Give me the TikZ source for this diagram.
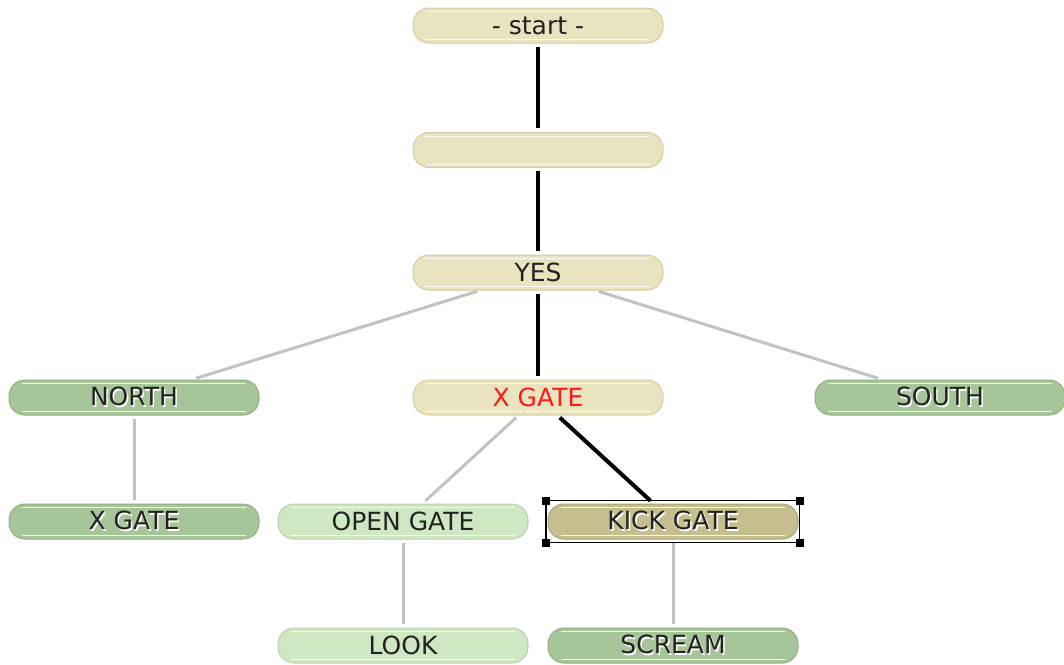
\documentclass[tikz,border=0pt]{standalone}
\usepackage{fontspec}
\setmainfont{DejaVu Sans}
\definecolor{beige}{HTML}{E9E3BF}
\definecolor{beigeline}{HTML}{D4CCA2}
\definecolor{dgreen}{HTML}{A6C599}
\definecolor{dgreenline}{HTML}{8EAF80}
\definecolor{lgreen}{HTML}{D0E7C3}
\definecolor{lgreenline}{HTML}{B6D4A6}
\definecolor{kick}{HTML}{C5BE8E}
\definecolor{kickline}{HTML}{A9A272}
\definecolor{txt}{HTML}{222222}
\definecolor{conn}{HTML}{C2C2C2}
\definecolor{redtxt}{HTML}{FF1A1A}
\newcommand\embtext[1]{\makebox[0pt][l]{\raisebox{-1.5pt}{\hspace{1.5pt}\textcolor{white}{#1}}}#1}
\tikzset{
  box/.style={draw=#1, line width=1pt, rounded corners=16pt, minimum width=250pt, minimum height=35pt,
    inner sep=0pt, text=txt, font=\fontsize{25}{28}\selectfont,
    path picture={
      \draw[white, line width=1pt, opacity=0.85]
        ([xshift=13pt,yshift=-3.5pt]path picture bounding box.north west) -- ([xshift=-13pt,yshift=-3.5pt]path picture bounding box.north east)
        ([xshift=13pt,yshift=3.5pt]path picture bounding box.south west) -- ([xshift=-13pt,yshift=3.5pt]path picture bounding box.south east);
    }},
  tan/.style={box=beigeline, fill=beige},
  dg/.style={box=dgreenline, fill=dgreen},
  lg/.style={box=lgreenline, fill=lgreen},
  kk/.style={box=kickline, fill=kick},
  main/.style={draw=black, line width=4pt, shorten <=3pt, shorten >=4pt},
  side/.style={draw=conn, line width=3pt, shorten <=3pt, shorten >=4pt},
  handle/.style={fill=black, minimum size=8pt, inner sep=0pt}
}
\begin{document}
\begin{tikzpicture}[x=1pt,y=-1pt]
\useasboundingbox[fill=white] (0,0) rectangle (1064,664);
\node[tan] (start) at (538,25.5) {- start -};
\node[tan] (blank) at (538,150) {};
\node[tan] (yes) at (538,272.5) {YES};
\node[dg] (north) at (134,397.5) {\embtext{NORTH}};
\node[tan, text=redtxt] (xgate) at (538,397.5) {X GATE};
\node[dg] (south) at (940,397.5) {\embtext{SOUTH}};
\node[dg] (nxgate) at (134,521.5) {\embtext{X GATE}};
\node[lg] (open) at (403,521.5) {OPEN GATE};
\node[kk] (kickg) at (673,521.5) {\embtext{KICK GATE}};
\node[lg] (look) at (403,645.5) {LOOK};
\node[dg] (scream) at (673,645.5) {\embtext{SCREAM}};
% selection frame
\draw[black, line width=1.6pt] (546,500.5) rectangle (799.5,542.5);
\node[handle] (h1) at (546,500.5) {};
\node[handle] (h2) at (799.5,500.5) {};
\node[handle] (h3) at (546,542.5) {};
\node[handle] (h4) at (799.5,542.5) {};
% connectors
\draw[main] (start) -- (blank);
\draw[main] (blank) -- (yes);
\draw[main] (yes) -- (xgate);
\draw[side] (yes) -- (north);
\draw[side] (yes) -- (south);
\draw[side] (north) -- (nxgate);
\draw[side] (xgate) -- (open);
\draw[main] (xgate) -- (kickg);
\draw[side] (open) -- (look);
\draw[side] (kickg) -- (scream);
\end{tikzpicture}
\end{document}
